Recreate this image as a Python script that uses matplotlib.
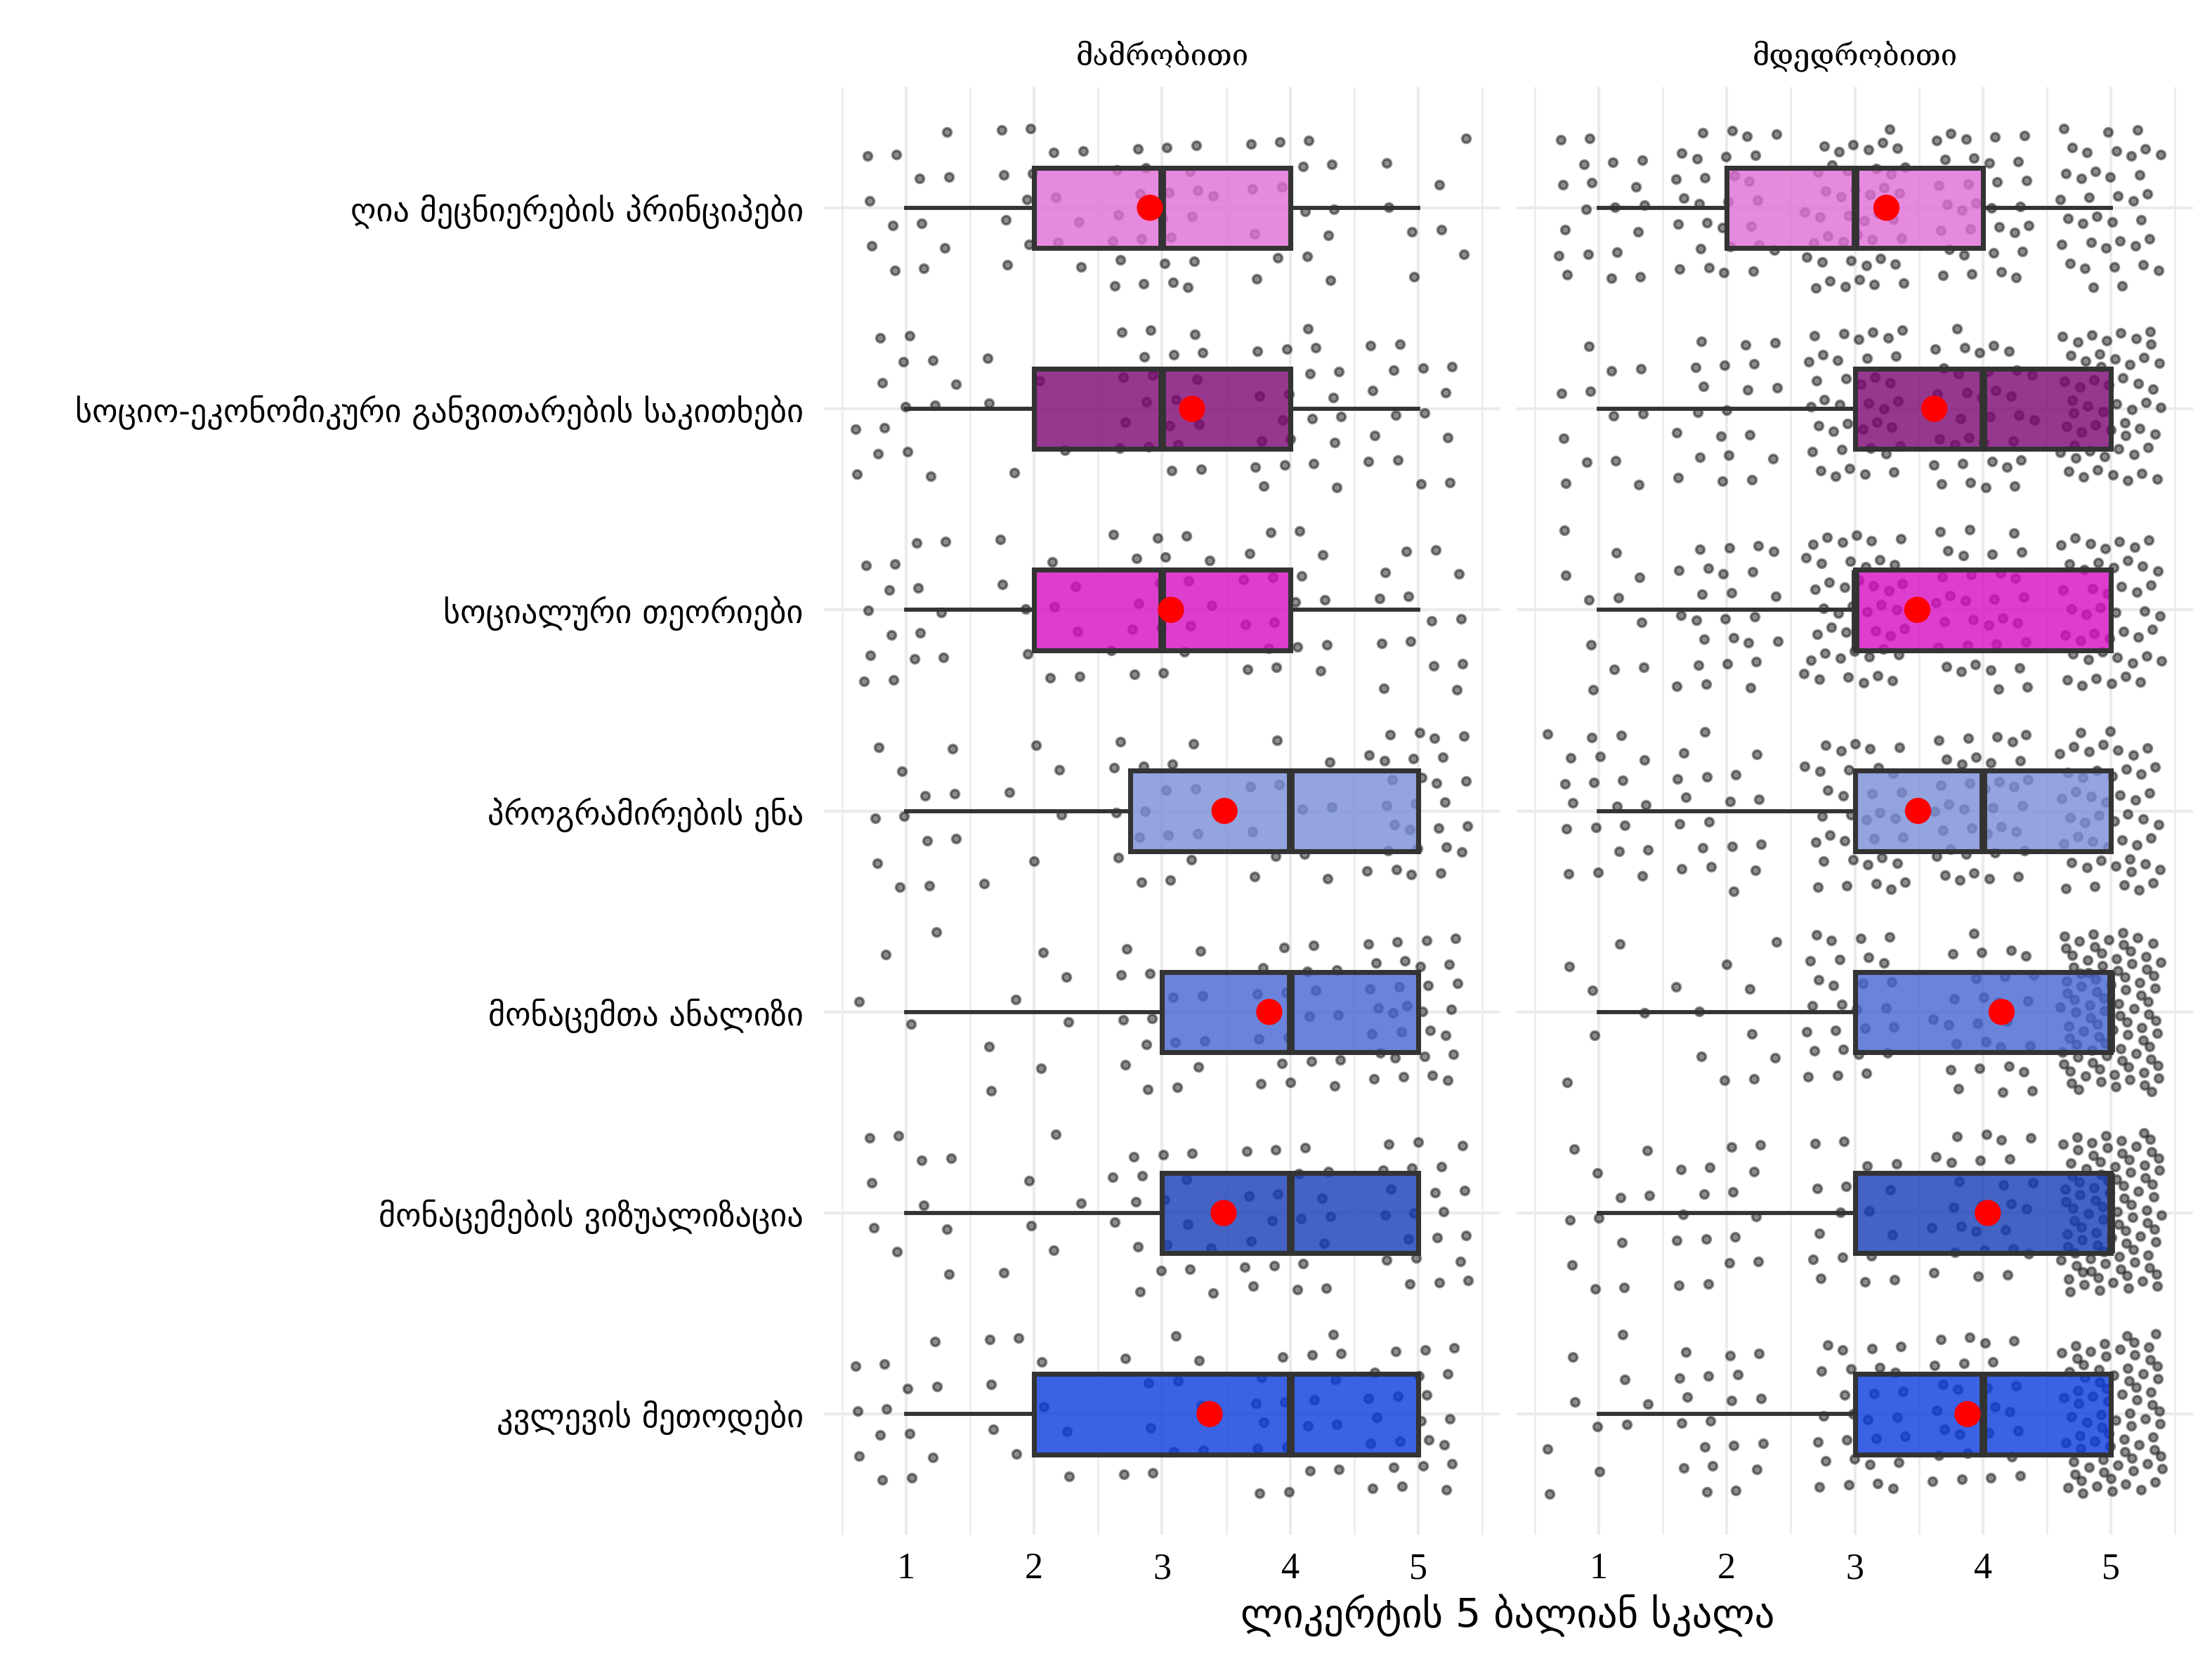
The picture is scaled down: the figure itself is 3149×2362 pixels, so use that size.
import numpy as np
import matplotlib
matplotlib.use("Agg")
import matplotlib.pyplot as plt
from matplotlib.colors import to_rgba

# ---------------- data ----------------
categories = [
    "ღია მეცნიერების პრინციპები",
    "სოციო-ეკონომიკური განვითარების საკითხები",
    "სოციალური თეორიები",
    "პროგრამირების ენა",
    "მონაცემთა ანალიზი",
    "მონაცემების ვიზუალიზაცია",
    "კვლევის მეთოდები",
]
panel_titles = ["მამრობითი", "მდედრობითი"]
likert_levels = [1, 2, 3, 4, 5]
x_ticks = [1, 2, 3, 4, 5]
x_label = "ლიკერტის 5 ბალიან სკალა"

# number of responses at each Likert level (1..5), per category
male_counts = [
    [12, 14, 24, 15, 8],
    [14, 5, 19, 20, 15],
    [15, 10, 17, 17, 14],
    [12, 6, 16, 11, 27],
    [4, 7, 15, 18, 29],
    [10, 6, 17, 19, 21],
    [13, 9, 11, 18, 22],
]
female_counts = [
    [19, 28, 43, 31, 37],
    [12, 20, 38, 34, 54],
    [11, 25, 44, 32, 46],
    [20, 18, 34, 36, 50],
    [6, 10, 27, 27, 88],
    [11, 16, 17, 26, 88],
    [10, 19, 27, 26, 76],
]
box_colors = ["#E06DD7", "#7D0673", "#D60EC2", "#788DD8", "#4565D2", "#153CB6", "#0A3BDE"]

# ---------------- styling ----------------
W, H, DPI = 3149, 2362, 300
fig = plt.figure(figsize=(W / DPI, H / DPI), dpi=DPI)
fig.patch.set_facecolor("white")

geo_font = ["DejaVu Sans"]
title_font = ["DejaVu Serif", "DejaVu Sans"]
num_font = ["Liberation Serif", "DejaVu Serif"]

panel_bottom = 1 - 2185 / H
panel_h = (2185 - 124) / H
panel_w = 963 / W
lefts = [1173 / W, 2159 / W]

# deterministic low-discrepancy jitter (display only)
a1, a2 = 0.7548776662466927, 0.5698402909980532
counter = [0]

def jitter(n):
    k = np.arange(counter[0], counter[0] + n)
    counter[0] += n
    u = (0.37 + k * a1) % 1.0
    v = (0.61 + k * a2) % 1.0
    return (u - 0.5) * 0.8, (v - 0.5) * 0.8

grid_c = "#EBEBEB"
dark = "#333333"

for p, counts in enumerate([male_counts, female_counts]):
    ax = fig.add_axes([lefts[p], panel_bottom, panel_w, panel_h])

    data = [np.repeat(likert_levels, c) for c in counts]
    positions = np.arange(1, len(categories) + 1)

    # jittered raw responses
    for d, pos in zip(data, positions):
        dx, dy = jitter(len(d))
        ax.scatter(d + dx, pos + dy, s=8, color="black", alpha=0.45,
                   linewidths=0.9, zorder=1)

    bp = ax.boxplot(data, positions=positions, orientation="horizontal",
                    widths=0.4, whis=1.5, showfliers=False, showcaps=False,
                    patch_artist=True, zorder=2, manage_ticks=False,
                    boxprops=dict(edgecolor=dark, linewidth=1.7),
                    whiskerprops=dict(color=dark, linewidth=1.4),
                    medianprops=dict(color=dark, linewidth=2.6))
    for patch, col in zip(bp["boxes"], box_colors):
        patch.set_facecolor(to_rgba(col, 0.8))
        patch.set_edgecolor(dark)

    means = [np.mean(d) for d in data]
    ax.scatter(means, positions, s=80, color="red", edgecolors="none", zorder=4)

    ax.set_xlim(0.36, 5.64)
    ax.set_ylim(len(categories) + 0.6, 0.4)
    ax.set_xticks(x_ticks)
    ax.set_xticks(np.arange(0.5, 6.0, 1.0), minor=True)
    ax.set_yticks(positions)
    ax.grid(which="major", axis="both", color=grid_c, lw=1.0)
    ax.grid(which="minor", axis="x", color=grid_c, lw=0.6)
    ax.set_axisbelow(True)
    for s in ax.spines.values():
        s.set_visible(False)
    ax.tick_params(which="both", length=0)
    ax.tick_params(axis="x", pad=6)
    ax.tick_params(axis="y", pad=7)
    ax.set_xticklabels([str(t) for t in x_ticks], fontfamily=num_font, fontsize=12.5)
    if p == 0:
        ax.set_yticklabels(categories, fontfamily=geo_font, fontsize=11.1)
    else:
        ax.set_yticklabels([])

    ax.text(0.5, 1 + 44 / 2061, panel_titles[p], transform=ax.transAxes,
            ha="center", va="center", fontfamily=title_font, fontsize=10)

fig.text(2146 / W, 1 - 2300 / H, x_label, ha="center", va="center",
         fontfamily=geo_font, fontsize=13.6)

fig.savefig("out.png", dpi=DPI)
